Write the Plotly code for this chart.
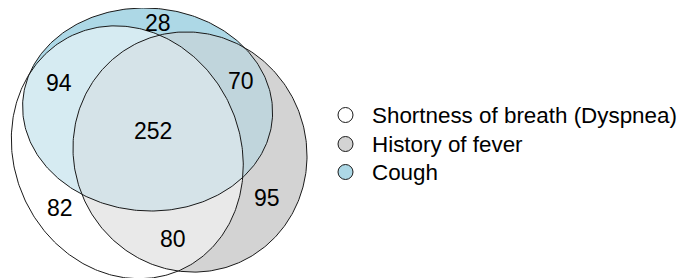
import numpy as np
import plotly.graph_objects as go

# ---- data ----
set_names = ["Shortness of breath (Dyspnea)", "History of fever", "Cough"]
set_colors = ["#ffffff", "#d3d3d3", "#add8e6"]
# ellipse parameters (centre x, centre y, semi-axis a, semi-axis b, rotation deg) in pixel units
ell_cx = [127.3, 190.0, 147.6]
ell_cy = [152.3, 152.0, 109.5]
ell_a = [129.2, 121.0, 125.1]
ell_b = [112.9, 116.1, 101.4]
ell_rot = [-115.0, -115.5, -176.2]
# region counts
region_names = ["Dyspnea", "Fever", "Cough", "Dyspnea&Fever", "Dyspnea&Cough", "Fever&Cough", "All"]
region_counts = [82, 95, 28, 80, 94, 70, 252]
mix_colors = {"01": "#e9e9e9", "02": "#d6ebf2", "12": "#c0d5dc", "012": "#d5e3e8"}

# ---- layout positions ----
label_x = [59.5, 266.5, 157.5, 173, 59, 240.5, 152.5]
label_y = [208, 197.5, 22.5, 239, 83, 81, 131]
legend_marker_x = 345.5
legend_text_x = 370
legend_y = [115, 144, 172]
OFF = 8  # page body margin


def ellipse(cx, cy, a, b, ang, n=360):
    t = np.linspace(0, 2*np.pi, n, endpoint=False)
    th = np.radians(ang)
    x = cx + a*np.cos(t)*np.cos(th) - b*np.sin(t)*np.sin(th)
    y = cy + a*np.cos(t)*np.sin(th) + b*np.sin(t)*np.cos(th)
    return np.c_[x, y]


def clip(subject, clipper):
    def area(P):
        return 0.5*np.sum(P[:, 0]*np.roll(P[:, 1], -1) - np.roll(P[:, 0], -1)*P[:, 1])
    s = np.sign(area(clipper))
    out = list(subject)
    n = len(clipper)
    for i in range(n):
        a = clipper[i]; b = clipper[(i+1) % n]
        def side(p):
            return s*((b[0]-a[0])*(p[1]-a[1]) - (b[1]-a[1])*(p[0]-a[0]))
        inp = out; out = []
        if not inp:
            break
        for j in range(len(inp)):
            cur = inp[j]; prev = inp[j-1]
            sc, sp = side(cur), side(prev)
            if sc >= 0:
                if sp < 0:
                    out.append(prev + sp/(sp-sc)*(cur-prev))
                out.append(cur)
            elif sp >= 0:
                out.append(prev + sp/(sp-sc)*(cur-prev))
    return np.array(out)


polys = [ellipse(*p) for p in zip(ell_cx, ell_cy, ell_a, ell_b, ell_rot)]

fig = go.Figure()


def add_poly(P, fill=None, line=False):
    xs = np.r_[P[:, 0], P[0, 0]]
    ys = np.r_[P[:, 1], P[0, 1]]
    if fill:
        fig.add_trace(go.Scatter(x=xs, y=ys, mode="lines", fill="toself", fillcolor=fill,
                                 line=dict(width=0), hoverinfo="skip", showlegend=False))
    if line:
        fig.add_trace(go.Scatter(x=xs, y=ys, mode="lines", line=dict(color="#1a1a1a", width=1),
                                 hoverinfo="skip", showlegend=False))


for P, c in zip(polys, set_colors):
    add_poly(P, fill=c)
add_poly(clip(polys[0], polys[1]), fill=mix_colors["01"])
add_poly(clip(polys[0], polys[2]), fill=mix_colors["02"])
add_poly(clip(polys[1], polys[2]), fill=mix_colors["12"])
add_poly(clip(clip(polys[0], polys[1]), polys[2]), fill=mix_colors["012"])
for P in polys:
    add_poly(P, line=True)

font = "Liberation Sans, Arial, Helvetica, sans-serif"
for x, y, n in zip(label_x, label_y, region_counts):
    fig.add_annotation(x=x, y=y, text=str(n), showarrow=False, xanchor="center", yanchor="middle",
                       font=dict(size=23, family=font, color="#000"))

for name, col, y in zip(set_names, set_colors, legend_y):
    fig.add_shape(type="circle", xref="x", yref="y", xsizemode="pixel", ysizemode="pixel",
                  xanchor=legend_marker_x, yanchor=y, x0=-7.5, x1=7.5, y0=-7.5, y1=7.5,
                  fillcolor=col, line=dict(color="#1a1a1a", width=1))
    fig.add_annotation(x=legend_text_x, y=y, text=name, showarrow=False, xanchor="left", yanchor="middle",
                       font=dict(size=22.4, family=font, color="#000"))

fig.update_layout(width=685-OFF, height=278-OFF, margin=dict(l=0, r=0, t=0, b=0),
                  plot_bgcolor="white", paper_bgcolor="white",
                  xaxis=dict(range=[OFF, 685], visible=False),
                  yaxis=dict(range=[278, OFF], visible=False))
fig.write_html("out.html")
